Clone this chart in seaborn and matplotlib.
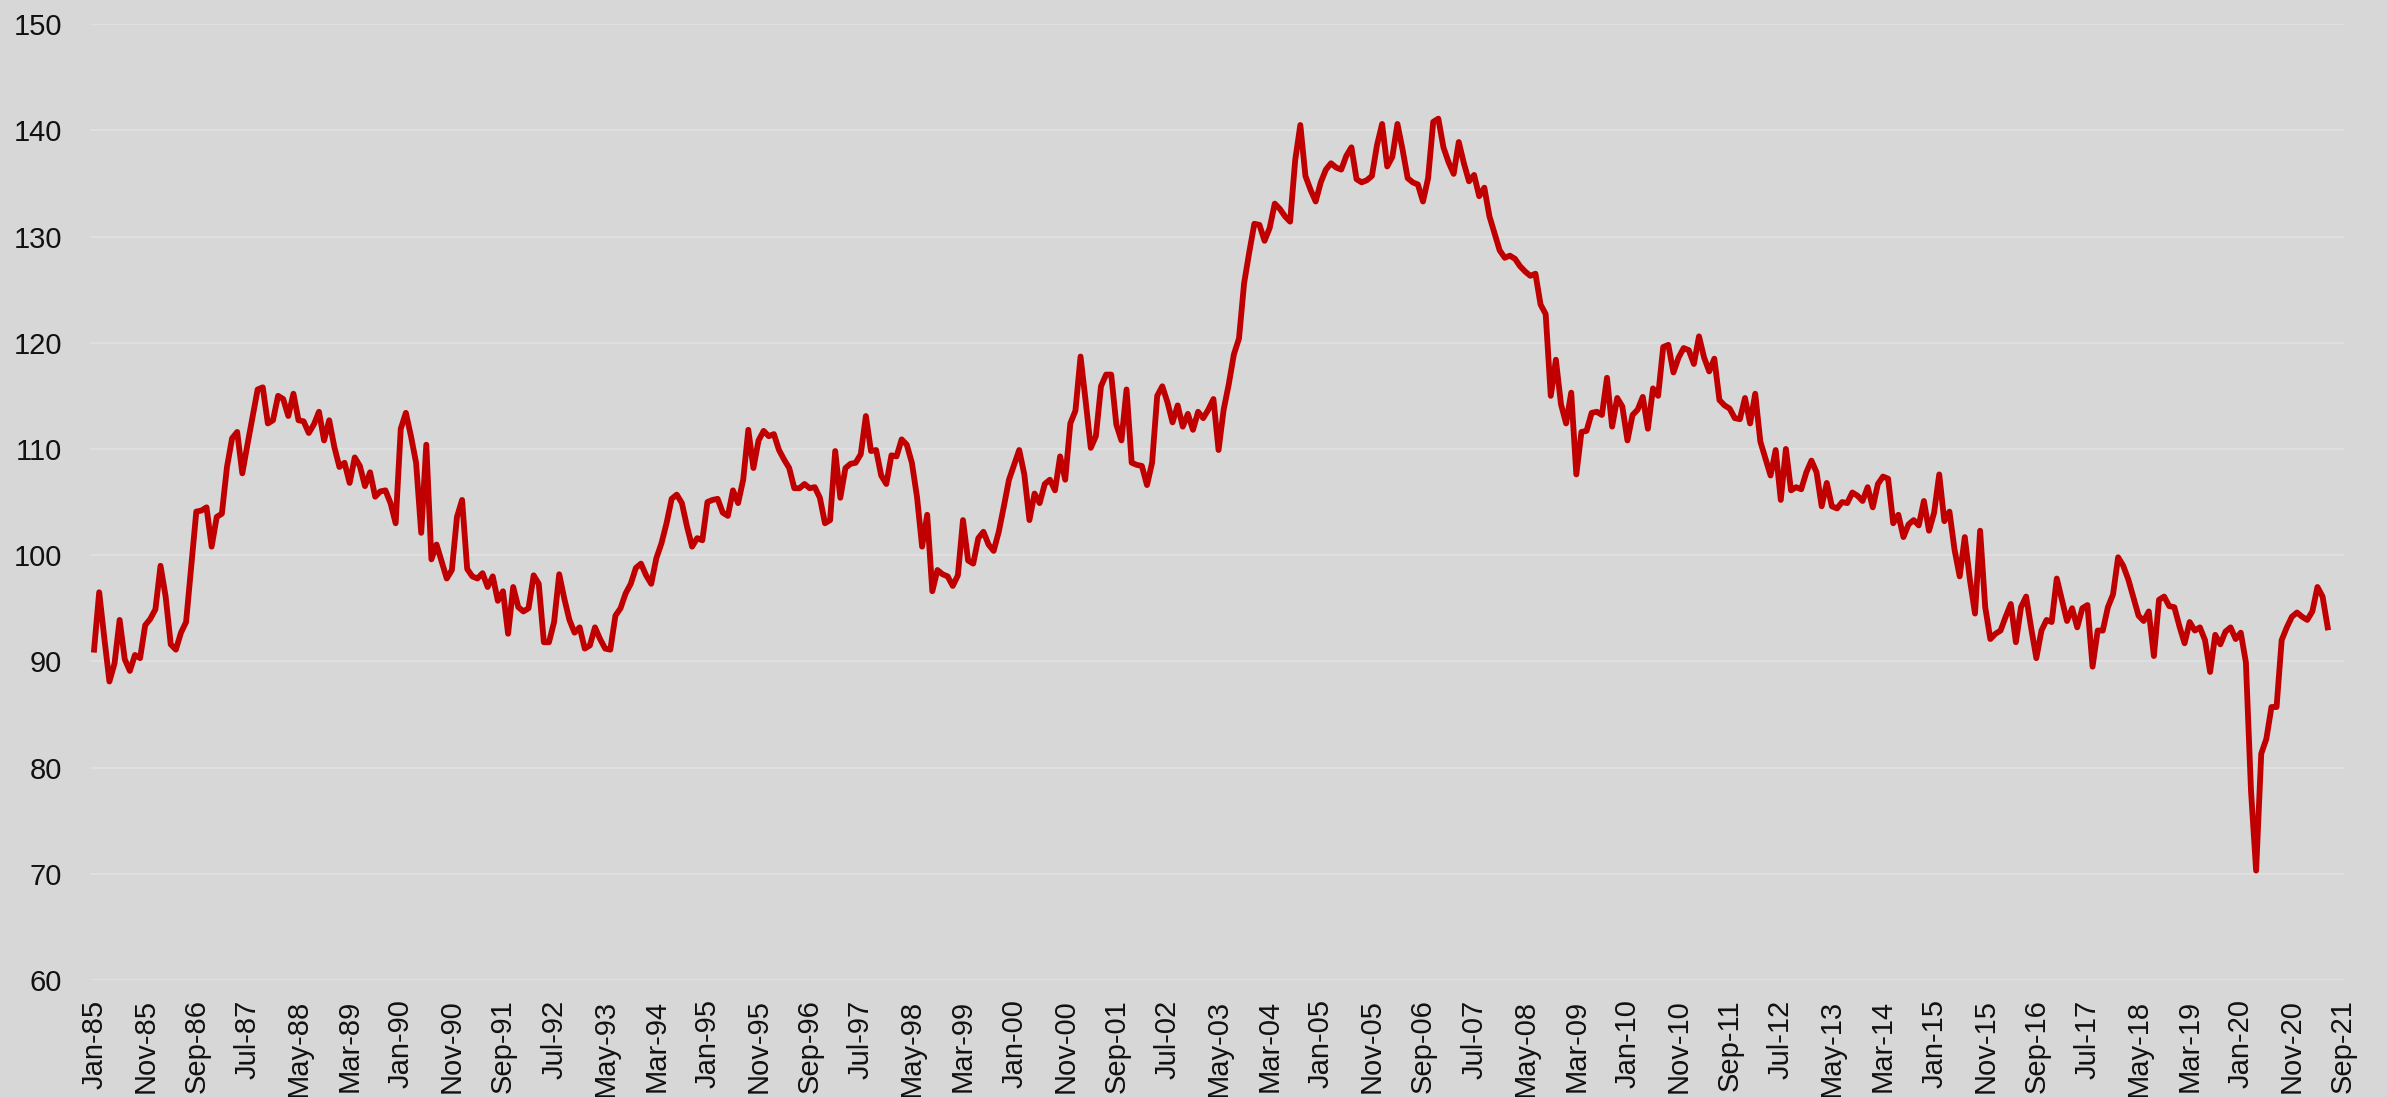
import pandas as pd
import matplotlib.pyplot as plt
import seaborn as sns

# monthly index, Jan-1985 onwards (one row per year)
index_values = [
    91.1, 96.5, 92.2, 88.1, 89.8, 93.9, 90.2, 89.1, 90.6, 90.3, 93.4, 94.0,          # 1985
    94.9, 99.0, 96.1, 91.6, 91.1, 92.7, 93.7, 98.9, 104.1, 104.2, 104.5, 100.8,      # 1986
    103.6, 103.9, 108.3, 111.0, 111.6, 107.7, 110.4, 113.0, 115.6, 115.8, 112.4, 112.7,  # 1987
    115.0, 114.7, 113.1, 115.2, 112.7, 112.6, 111.5, 112.3, 113.5, 110.8, 112.7, 110.2,  # 1988
    108.3, 108.7, 106.8, 109.2, 108.4, 106.5, 107.8, 105.5, 106.0, 106.1, 104.9, 103.0,  # 1989
    111.9, 113.4, 111.2, 108.7, 102.1, 110.4, 99.6, 101.0, 99.4, 97.8, 98.6, 103.6,      # 1990
    105.2, 98.7, 98.0, 97.8, 98.3, 97.0, 98.0, 95.7, 96.6, 92.6, 97.0, 95.1,             # 1991
    94.7, 95.0, 98.1, 97.3, 91.8, 91.8, 93.7, 98.2, 95.9, 93.9, 92.7, 93.2,              # 1992
    91.2, 91.5, 93.2, 92.1, 91.2, 91.1, 94.3, 95.0, 96.4, 97.3, 98.8, 99.2,              # 1993
    98.1, 97.3, 99.7, 101.1, 103.0, 105.3, 105.7, 104.9, 102.7, 100.8, 101.6, 101.4,     # 1994
    105.0, 105.2, 105.3, 104.0, 103.7, 106.1, 104.9, 107.1, 111.8, 108.2, 110.8, 111.7,  # 1995
    111.2, 111.4, 109.9, 109.0, 108.2, 106.3, 106.3, 106.7, 106.3, 106.4, 105.4, 103.0,  # 1996
    103.3, 109.8, 105.4, 108.2, 108.6, 108.7, 109.5, 113.1, 109.8, 109.9, 107.5, 106.7,  # 1997
    109.4, 109.3, 110.9, 110.4, 108.7, 105.5, 100.8, 103.8, 96.6, 98.6, 98.2, 98.0,      # 1998
    97.1, 98.1, 103.3, 99.5, 99.2, 101.6, 102.2, 101.0, 100.4, 102.2, 104.6, 107.1,      # 1999
    108.5, 109.9, 107.6, 103.3, 105.8, 104.9, 106.7, 107.1, 106.1, 109.3, 107.1, 112.4,  # 2000
    113.6, 118.7, 114.5, 110.1, 111.2, 115.9, 117.0, 117.0, 112.3, 110.8, 115.6, 108.7,  # 2001
    108.5, 108.4, 106.6, 108.7, 115.0, 115.9, 114.4, 112.5, 114.1, 112.1, 113.3, 111.8,  # 2002
    113.5, 112.9, 113.7, 114.7, 109.9, 113.7, 116.1, 118.9, 120.4, 125.6, 128.5, 131.2,  # 2003
    131.1, 129.6, 130.8, 133.1, 132.6, 131.9, 131.4, 137.2, 140.5, 135.7, 134.4, 133.3,  # 2004
    135.1, 136.3, 136.9, 136.5, 136.3, 137.6, 138.4, 135.4, 135.1, 135.3, 135.7, 138.6,  # 2005
    140.6, 136.6, 137.5, 140.6, 138.2, 135.5, 135.1, 134.9, 133.3, 135.5, 140.8, 141.1,  # 2006
    138.4, 137.0, 135.9, 138.9, 136.9, 135.2, 135.8, 133.8, 134.6, 131.9, 130.3, 128.7,  # 2007
    128.0, 128.2, 127.9, 127.2, 126.7, 126.3, 126.5, 123.6, 122.7, 115.0, 118.4, 114.2,  # 2008
    112.4, 115.3, 107.6, 111.6, 111.7, 113.4, 113.5, 113.2, 116.7, 112.1, 114.8, 114.0,  # 2009
    110.8, 113.2, 113.7, 114.9, 111.9, 115.7, 115.0, 119.6, 119.8, 117.2, 118.6, 119.5,  # 2010
    119.3, 118.0, 120.6, 118.6, 117.3, 118.5, 114.6, 114.1, 113.8, 112.9, 112.8, 114.8,  # 2011
    112.4, 115.2, 110.7, 109.1, 107.5, 109.9, 105.2, 110.0, 106.1, 106.4, 106.2, 107.8,  # 2012
    108.9, 107.8, 104.6, 106.8, 104.6, 104.4, 105.0, 104.9, 105.9, 105.6, 105.1, 106.4,  # 2013
    104.5, 106.7, 107.4, 107.2, 103.0, 103.8, 101.7, 102.9, 103.3, 102.8, 105.1, 102.3,  # 2014
    104.0, 107.6, 103.2, 104.1, 100.5, 98.0, 101.7, 97.7, 94.5, 102.3, 95.1, 92.1,       # 2015
    92.6, 92.9, 94.2, 95.4, 91.8, 95.1, 96.1, 93.1, 90.3, 92.9, 93.9, 93.7,              # 2016
    97.8, 95.8, 93.8, 95.0, 93.2, 95.0, 95.3, 89.5, 92.9, 92.9, 95.1, 96.3,              # 2017
    99.8, 99.0, 97.7, 96.0, 94.3, 93.8, 94.7, 90.5, 95.8, 96.1, 95.2, 95.1,              # 2018
    93.3, 91.7, 93.7, 92.9, 93.2, 92.0, 89.0, 92.5, 91.6, 92.8, 93.2, 92.1,              # 2019
    92.7, 89.9, 77.8, 70.3, 81.3, 82.7, 85.7, 85.7, 92.0, 93.2, 94.2, 94.6,              # 2020
    94.2, 93.9, 94.7, 97.0, 96.1, 93.2,                                                  # 2021
]

# category axis runs Jan-85 .. Sep-21, labelled every 10 months
axis_months = pd.date_range('1985-01-01', '2021-09-01', freq='MS')
tick_step = 10
y_ticks = list(range(60, 151, 10))

df = pd.DataFrame({'pos': range(len(index_values)), 'value': index_values})

bg = '#d7d7d7'
fig = plt.figure(figsize=(23.87, 10.97), dpi=100, facecolor=bg)
ax = fig.add_axes([0.0377, 0.1067, 0.9443, 0.8713])
ax.set_facecolor(bg)

sns.lineplot(data=df, x='pos', y='value', ax=ax, color='#c00000', linewidth=4.2)

ax.set_ylim(60, 150)
ax.set_yticks(y_ticks)
ax.set_xlim(-0.8, 440.2)
tick_pos = list(range(0, len(axis_months), tick_step))
ax.set_xticks(tick_pos)
ax.set_xticklabels([axis_months[i].strftime('%b-%y') for i in tick_pos], rotation=90)

ax.grid(axis='y', color='#dfdfdf', linewidth=1.5)
ax.grid(axis='x', visible=False)
ax.set_axisbelow(True)
for s in ax.spines.values():
    s.set_visible(False)
ax.tick_params(length=0, labelsize=21, colors='#111111')
ax.tick_params(axis='x', pad=14)
ax.tick_params(axis='y', pad=20)
for lab in ax.get_xticklabels() + ax.get_yticklabels():
    lab.set_family(['Liberation Sans', 'DejaVu Sans'])
ax.set_xlabel('')
ax.set_ylabel('')

plt.savefig('out.png', dpi=100, facecolor=bg)
plt.close()
